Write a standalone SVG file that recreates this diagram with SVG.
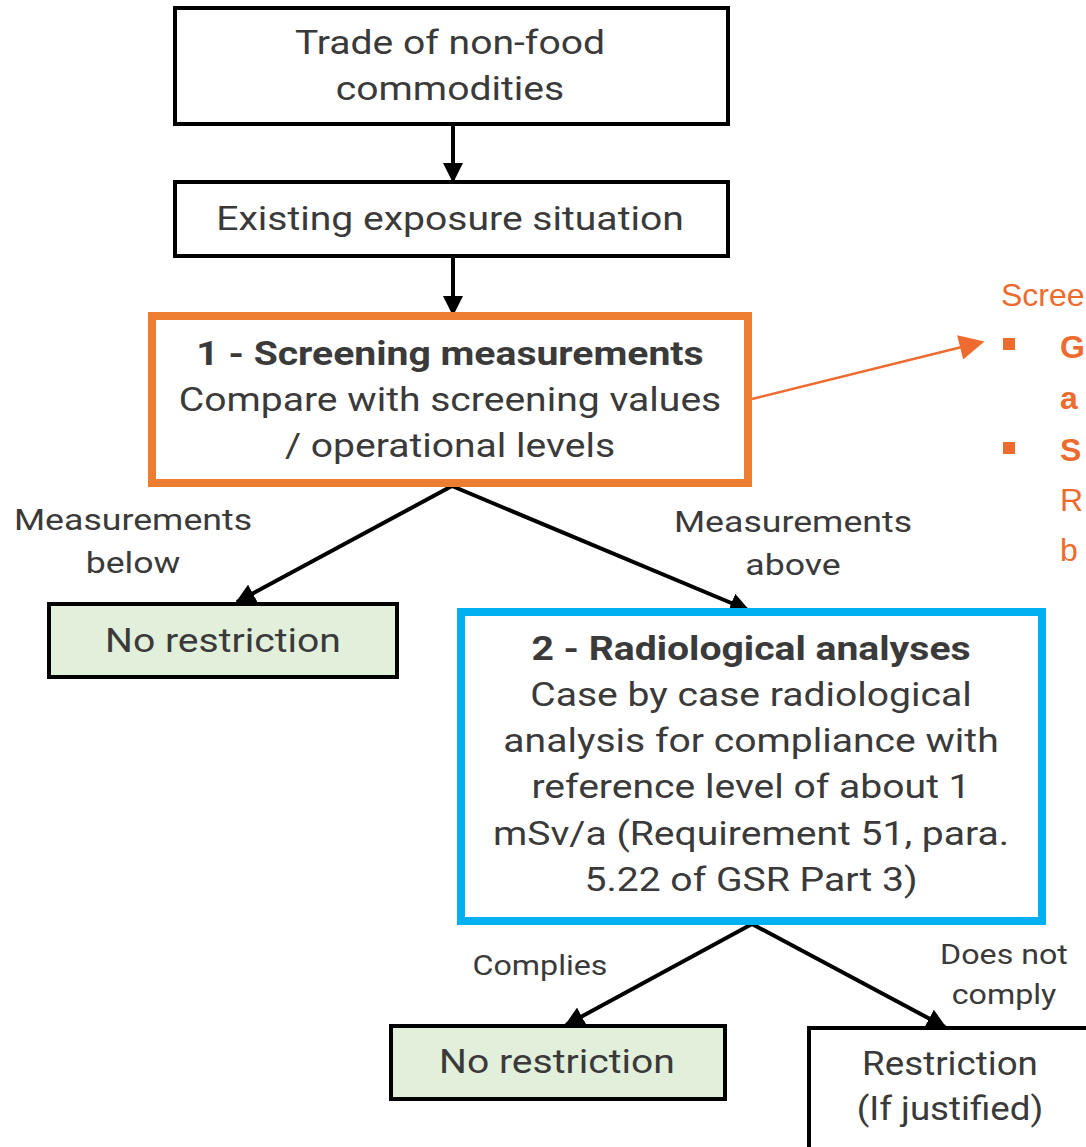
<svg xmlns="http://www.w3.org/2000/svg" width="1086" height="1147" viewBox="0 0 1086 1147">
<defs>
<style>
text{font-family:Roboto,"Liberation Sans",sans-serif;fill:#3a3a3a;text-anchor:middle;font-weight:400}
.box{fill:#fff;stroke:#000;stroke-width:4}
.green{fill:#E2EFDA;stroke:#000;stroke-width:4}
.t{font-size:34px}
.b{font-weight:bold;font-size:33px}
.lbl{font-size:29px}
.sm{font-size:28px}
.con{stroke:#000;stroke-width:4;fill:none;marker-end:url(#ah)}
.or{font-family:"Liberation Sans",Arial,sans-serif;fill:#EE6B2F;text-anchor:start;font-size:32px}
.ob{font-weight:bold}
</style>
<marker id="ah" viewBox="0 0 10 10" refX="9" refY="5" markerWidth="5" markerHeight="5" orient="auto" markerUnits="strokeWidth"><path d="M0,0 L10,5 L0,10 z" fill="#000"/></marker>
<marker id="oh" viewBox="0 0 10 10" refX="9" refY="5" markerWidth="12" markerHeight="10" orient="auto" markerUnits="strokeWidth"><path d="M0,0 L10,5 L0,10 z" fill="#EE6B2F"/></marker>
</defs>
<rect width="1086" height="1147" fill="#fff"/>
<g id="connectors">
<line class="con" x1="453" y1="124" x2="453" y2="181"/>
<line class="con" x1="453" y1="256" x2="453" y2="314"/>
<line class="con" x1="452" y1="486" x2="237" y2="602"/>
<line class="con" x1="452" y1="486" x2="748" y2="610"/>
<line class="con" x1="752" y1="924" x2="566" y2="1025"/>
<line class="con" x1="752" y1="924" x2="945" y2="1027"/>
<line x1="752" y1="399" x2="982" y2="342" stroke="#EE6B2F" stroke-width="2.5" marker-end="url(#oh)"/>
</g>
<g id="n1"><rect class="box" x="175" y="8" width="553" height="116"/>
<text class="t" transform="translate(450 0) scale(1.15 1)" y="54">Trade of non-food</text><text class="t" transform="translate(450 0) scale(1.15 1)" y="100">commodities</text></g>
<g id="n2"><rect class="box" x="175" y="182" width="553" height="74"/>
<text class="t" transform="translate(450 0) scale(1.15 1)" y="230">Existing exposure situation</text></g>
<g id="n3"><rect x="152" y="316" width="596" height="167" fill="#fff" stroke="#ED7D31" stroke-width="8"/>
<text class="b" transform="translate(450 0) scale(1.185 1)" y="365">1 - Screening measurements</text>
<text class="t" transform="translate(450 0) scale(1.15 1)" y="411">Compare with screening values</text>
<text class="t" transform="translate(450 0) scale(1.15 1)" y="457">/ operational levels</text></g>
<g id="l1"><text class="lbl" transform="translate(133 0) scale(1.23 1)" y="530">Measurements</text><text class="lbl" transform="translate(133 0) scale(1.23 1)" y="573">below</text></g>
<g id="l2"><text class="lbl" transform="translate(793 0) scale(1.23 1)" y="532">Measurements</text><text class="lbl" transform="translate(793 0) scale(1.23 1)" y="575">above</text></g>
<g id="n4"><rect class="green" x="49" y="604" width="348" height="73"/>
<text class="t" transform="translate(223 0) scale(1.15 1)" y="652">No restriction</text></g>
<g id="n5"><rect x="461" y="612" width="581" height="309" fill="#fff" stroke="#00B0F0" stroke-width="8"/>
<text class="b" transform="translate(751 0) scale(1.185 1)" y="660">2 - Radiological analyses</text>
<text class="t" transform="translate(751 0) scale(1.15 1)" y="706">Case by case radiological</text>
<text class="t" transform="translate(751 0) scale(1.15 1)" y="752">analysis for compliance with</text>
<text class="t" transform="translate(751 0) scale(1.15 1)" y="798">reference level of about 1</text>
<text class="t" transform="translate(751 0) scale(1.15 1)" y="845">mSv/a (Requirement 51, para.</text>
<text class="t" transform="translate(751 0) scale(1.15 1)" y="891">5.22 of GSR Part 3)</text></g>
<g id="l3"><text class="sm" transform="translate(540 0) scale(1.15 1)" y="975">Complies</text></g>
<g id="l4"><text class="sm" transform="translate(1004 0) scale(1.15 1)" y="964">Does not</text><text class="sm" transform="translate(1004 0) scale(1.15 1)" y="1004">comply</text></g>
<g id="n6"><rect class="green" x="391" y="1026" width="334" height="73"/>
<text class="t" transform="translate(557 0) scale(1.15 1)" y="1073">No restriction</text></g>
<g id="n7"><rect class="box" x="809" y="1028" width="290" height="130"/>
<text class="t" transform="translate(950 0) scale(1.08 1)" y="1075">Restriction</text><text class="t" transform="translate(950 0) scale(1.08 1)" y="1120">(If justified)</text></g>
<g id="side">
<text class="or" x="1001" y="306">Scree</text>
<rect x="1003" y="338" width="12" height="12" fill="#EE6B2F"/>
<rect x="1003" y="442" width="12" height="12" fill="#EE6B2F"/>
<text class="or ob" x="1060" y="358">G</text>
<text class="or ob" x="1060" y="409">a</text>
<text class="or ob" x="1060" y="461">S</text>
<text class="or" x="1060" y="511">R</text>
<text class="or" x="1060" y="561">b</text>
</g>
</svg>
